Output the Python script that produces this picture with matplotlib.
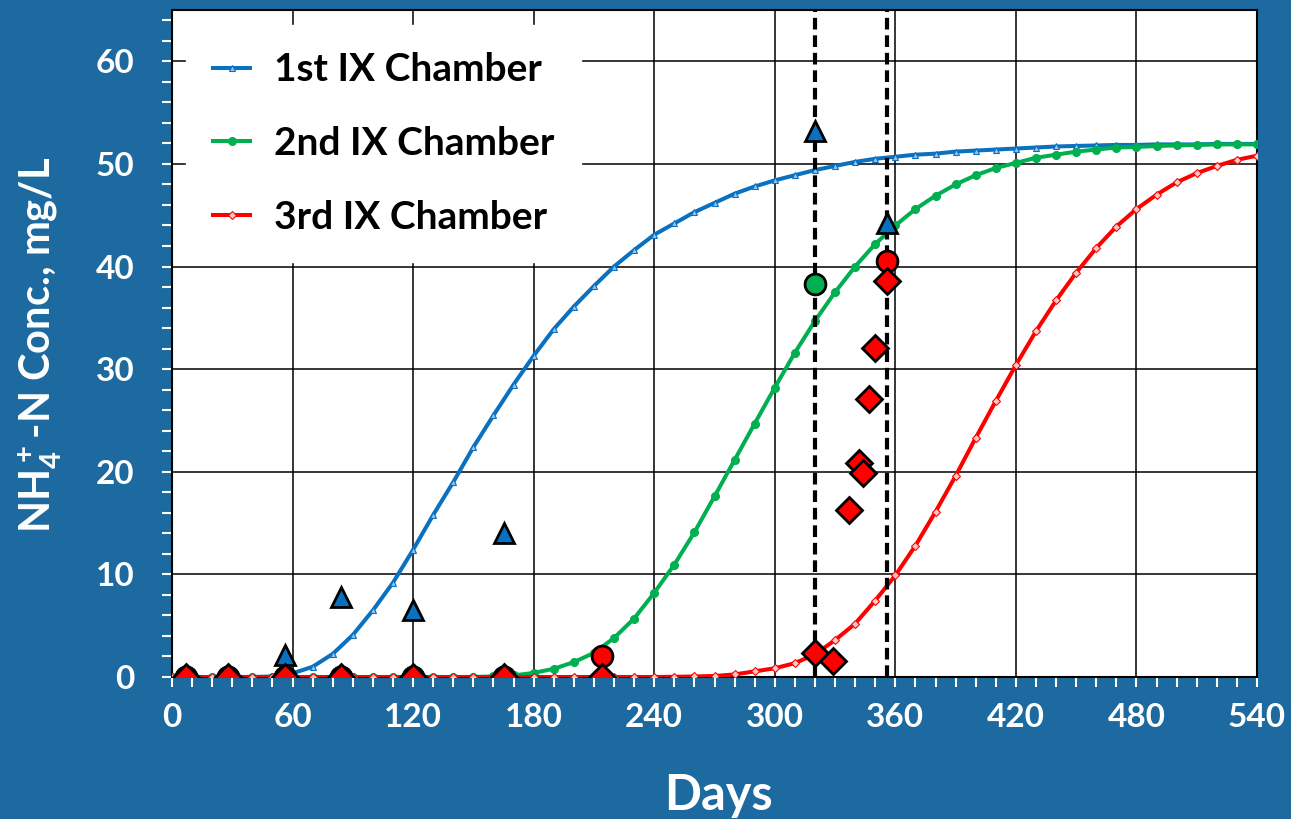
import matplotlib
matplotlib.use('Agg')
import matplotlib.pyplot as plt
from matplotlib.ticker import MultipleLocator

plt.rcParams['font.family'] = ['Lato', 'DejaVu Sans']
plt.rcParams['font.weight'] = 'bold'
plt.rcParams['mathtext.fontset'] = 'custom'
plt.rcParams['mathtext.bf'] = 'Lato:bold'
plt.rcParams['mathtext.rm'] = 'Lato:bold'
plt.rcParams['mathtext.default'] = 'bf'

days = list(range(0, 541, 10))
chamber1 = [0, 0, 0, 0, 0, 0.05, 0.35, 1.0, 2.25, 4.1, 6.5, 9.2, 12.4, 15.8, 19.0, 22.4,
            25.5, 28.5, 31.3, 33.9, 36.1, 38.1, 40.0, 41.6, 43.1, 44.2, 45.3, 46.2, 47.1,
            47.8, 48.4, 48.9, 49.4, 49.8, 50.2, 50.5, 50.7, 50.9, 51.0, 51.2, 51.3, 51.4,
            51.5, 51.6, 51.7, 51.75, 51.8, 51.85, 51.85, 51.9, 51.9, 51.9, 51.95, 51.95, 51.95]
chamber2 = [0, 0, 0, 0, 0, 0, 0, 0, 0, 0, 0, 0, 0, 0, 0, 0, 0.05, 0.15, 0.4, 0.8, 1.45,
            2.35, 3.8, 5.7, 8.2, 10.95, 14.1, 17.6, 21.15, 24.7, 28.2, 31.6, 34.7, 37.5,
            40.0, 42.2, 44.0, 45.6, 46.9, 48.0, 48.9, 49.6, 50.1, 50.6, 50.9, 51.2, 51.4,
            51.6, 51.65, 51.75, 51.8, 51.85, 51.9, 51.9, 51.9]
chamber3 = [0, 0, 0, 0, 0, 0, 0, 0, 0, 0, 0, 0, 0, 0, 0, 0, 0, 0, 0, 0, 0, 0, 0, 0, 0,
            0.02, 0.05, 0.1, 0.25, 0.55, 0.85, 1.35, 2.2, 3.6, 5.2, 7.45, 9.9, 12.8, 16.1,
            19.6, 23.3, 26.9, 30.4, 33.7, 36.7, 39.4, 41.8, 43.9, 45.6, 47.0, 48.2, 49.1,
            49.8, 50.4, 50.8]

### Measured samples
meas1_days = [7, 28, 56, 84, 120, 165, 320, 356]
meas1_vals = [0, 0, 2.1, 7.8, 6.5, 14.0, 53.2, 44.2]
meas2_days = [7, 28, 56, 84, 120, 165, 320]
meas2_vals = [0, 0, 0, 0, 0, 0, 38.3]
meas3c_days = [7, 28, 56, 84, 120, 165, 214, 356]
meas3c_vals = [0, 0, 0, 0, 0, 0, 2.0, 40.5]
meas3d_days = [7, 28, 56, 84, 120, 165, 214, 320, 329, 337, 342, 344, 347, 350, 356]
meas3d_vals = [0, 0, 0, 0, 0, 0, 0, 2.3, 1.6, 16.3, 20.9, 19.9, 27.1, 32.1, 38.6]

vlines = [320, 356]
labels = ['1st IX Chamber', '2nd IX Chamber', '3rd IX Chamber']

bg = '#1c6a9f'
blue = '#0a70c0'
green = '#00b050'
red = '#ff0000'

fig = plt.figure(figsize=(12.91, 8.19), dpi=100, facecolor=bg)
ax = fig.add_axes([172/1291, 1-677/819, (1257-172)/1291, (677-10)/819])
ax.set_facecolor('white')

ax.plot(days, chamber1, color=blue, lw=2.9, marker='^', ms=5, mfc='#9dc3e6', mec=blue, mew=0.8, label=labels[0], zorder=3)
ax.plot(days, chamber2, color=green, lw=2.9, marker='o', ms=5.5, mfc=green, mec=green, label=labels[1], zorder=3)
ax.plot(days, chamber3, color=red, lw=2.9, marker='D', ms=4, mfc='#ffc8c8', mec=red, mew=0.8, label=labels[2], zorder=3)

for v in vlines:
    ax.axvline(v, color='black', lw=3, ls=(0, (2.8, 1.4)), zorder=4)

ax.plot(meas1_days, meas1_vals, ls='none', marker='^', ms=15, mfc=blue, mec='black', mew=2, zorder=5)
ax.plot(meas2_days, meas2_vals, ls='none', marker='o', ms=15, mfc=green, mec='black', mew=2, zorder=5)
ax.plot(meas3c_days, meas3c_vals, ls='none', marker='o', ms=15, mfc=red, mec='black', mew=2, zorder=5)
ax.plot(meas3d_days, meas3d_vals, ls='none', marker='D', ms=13, mfc=red, mec='black', mew=2, zorder=6)

ax.set_xlim(0, 540)
ax.set_ylim(0, 65)
ax.xaxis.set_major_locator(MultipleLocator(60))
ax.xaxis.set_minor_locator(MultipleLocator(10))
ax.set_yticks(range(0, 61, 10))
ax.yaxis.set_minor_locator(MultipleLocator(2))
ax.grid(True, which='major', color='black', lw=1.1, zorder=1)
ax.set_axisbelow(True)
ax.tick_params(which='both', direction='out', color='white', length=7, width=1.5)
ax.tick_params(axis='x', labelsize=24, labelcolor='white', pad=12)
ax.tick_params(axis='y', labelsize=24, labelcolor='white', pad=20)
for s in ax.spines.values():
    s.set_color('black')
    s.set_linewidth(1.5)

fig.text(40/1291, 1-345/819, r'NH$_4^+$-N Conc., mg/L', rotation=90, color='white',
         fontsize=30, fontweight='bold', ha='center', va='center')
fig.text(718/1291, 1-795/819, 'Days', color='white', fontsize=35, fontweight='bold',
         ha='center', va='center')

leg = ax.legend(loc='upper left', bbox_to_anchor=(186/1291, 1-25/819), bbox_transform=fig.transFigure,
                borderaxespad=0, fontsize=28, frameon=True, facecolor='white', edgecolor='white',
                framealpha=1, fancybox=False, handlelength=0.95, handletextpad=0.6,
                labelspacing=1.0, borderpad=0.7)
leg.set_zorder(10)

fig.savefig('out.png', dpi=100, facecolor=bg)
